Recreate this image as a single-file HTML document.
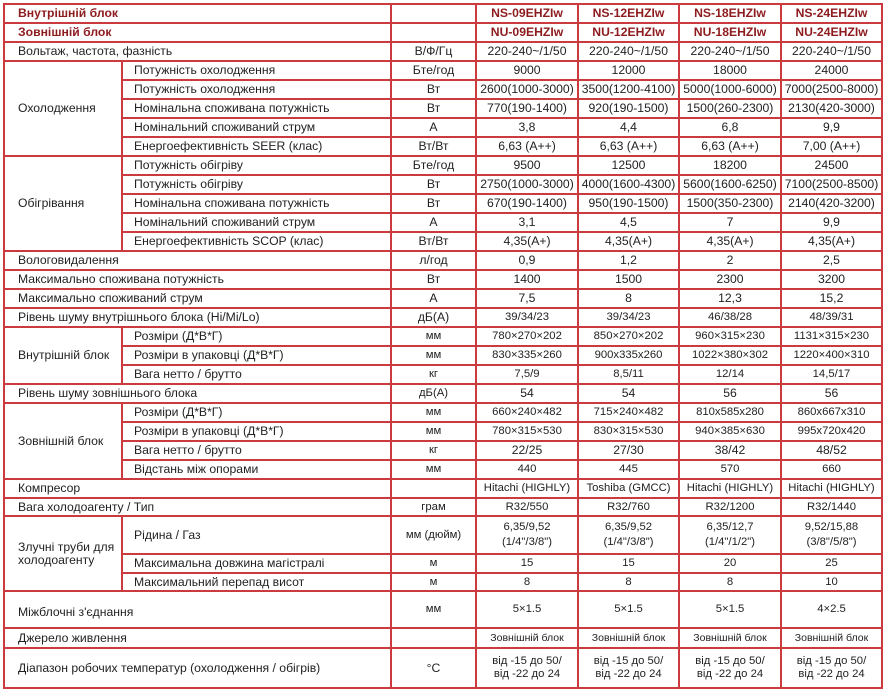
<!DOCTYPE html>
<html><head><meta charset="utf-8">
<style>
body{margin:0;background:#fff;width:886px;height:692px;overflow:hidden}
table{position:absolute;left:3px;top:3px;border-collapse:collapse;table-layout:fixed;font-family:"Liberation Sans","DejaVu Sans",sans-serif;font-size:12.2px;color:#222}
td{border:2px solid #cb3a3e;padding:0 0 0 13px;white-space:nowrap;overflow:hidden;line-height:13px}
td.s{padding-left:11px}
td.c{text-align:center;padding:0}
td.d{font-size:11.3px}
td.h{font-weight:bold;color:#8e1b1e}
tr{height:19px}
</style></head><body>
<table>
<colgroup><col style="width:118px"><col style="width:269px"><col style="width:85px"><col style="width:102px"><col style="width:101px"><col style="width:102px"><col style="width:101px"></colgroup>
<tr><td colspan="2" class="h">Внутрішній блок</td><td></td><td class="c h">NS-09EHZIw</td><td class="c h">NS-12EHZIw</td><td class="c h">NS-18EHZIw</td><td class="c h">NS-24EHZIw</td></tr>
<tr><td colspan="2" class="h">Зовнішній блок</td><td></td><td class="c h">NU-09EHZIw</td><td class="c h">NU-12EHZIw</td><td class="c h">NU-18EHZIw</td><td class="c h">NU-24EHZIw</td></tr>
<tr><td colspan="2">Вольтаж, частота, фазність</td><td class="c">В/Ф/Гц</td><td class="c">220-240~/1/50</td><td class="c">220-240~/1/50</td><td class="c">220-240~/1/50</td><td class="c">220-240~/1/50</td></tr>
<tr><td rowspan="5">Охолодження</td><td class="s">Потужність охолодження</td><td class="c">Бте/год</td><td class="c">9000</td><td class="c">12000</td><td class="c">18000</td><td class="c">24000</td></tr>
<tr><td class="s">Потужність охолодження</td><td class="c">Вт</td><td class="c">2600(1000-3000)</td><td class="c">3500(1200-4100)</td><td class="c">5000(1000-6000)</td><td class="c">7000(2500-8000)</td></tr>
<tr><td class="s">Номінальна споживана потужність</td><td class="c">Вт</td><td class="c">770(190-1400)</td><td class="c">920(190-1500)</td><td class="c">1500(260-2300)</td><td class="c">2130(420-3000)</td></tr>
<tr><td class="s">Номінальний споживаний струм</td><td class="c">А</td><td class="c">3,8</td><td class="c">4,4</td><td class="c">6,8</td><td class="c">9,9</td></tr>
<tr><td class="s">Енергоефективність SEER (клас)</td><td class="c">Вт/Вт</td><td class="c">6,63 (A++)</td><td class="c">6,63 (A++)</td><td class="c">6,63 (A++)</td><td class="c">7,00 (A++)</td></tr>
<tr><td rowspan="5">Обігрівання</td><td class="s">Потужність обігріву</td><td class="c">Бте/год</td><td class="c">9500</td><td class="c">12500</td><td class="c">18200</td><td class="c">24500</td></tr>
<tr><td class="s">Потужність обігріву</td><td class="c">Вт</td><td class="c">2750(1000-3000)</td><td class="c">4000(1600-4300)</td><td class="c">5600(1600-6250)</td><td class="c">7100(2500-8500)</td></tr>
<tr><td class="s">Номінальна споживана потужність</td><td class="c">Вт</td><td class="c">670(190-1400)</td><td class="c">950(190-1500)</td><td class="c">1500(350-2300)</td><td class="c">2140(420-3200)</td></tr>
<tr><td class="s">Номінальний споживаний струм</td><td class="c">А</td><td class="c">3,1</td><td class="c">4,5</td><td class="c">7</td><td class="c">9,9</td></tr>
<tr><td class="s">Енергоефективність SCOP (клас)</td><td class="c">Вт/Вт</td><td class="c">4,35(A+)</td><td class="c">4,35(A+)</td><td class="c">4,35(A+)</td><td class="c">4,35(A+)</td></tr>
<tr><td colspan="2">Вологовидалення</td><td class="c">л/год</td><td class="c">0,9</td><td class="c">1,2</td><td class="c">2</td><td class="c">2,5</td></tr>
<tr><td colspan="2">Максимально споживана потужність</td><td class="c">Вт</td><td class="c">1400</td><td class="c">1500</td><td class="c">2300</td><td class="c">3200</td></tr>
<tr><td colspan="2">Максимально споживаний струм</td><td class="c">А</td><td class="c">7,5</td><td class="c">8</td><td class="c">12,3</td><td class="c">15,2</td></tr>
<tr><td colspan="2">Рівень шуму внутрішнього блока (Hi/Mi/Lo)</td><td class="c">дБ(А)</td><td class="c d">39/34/23</td><td class="c d">39/34/23</td><td class="c d">46/38/28</td><td class="c d">48/39/31</td></tr>
<tr><td rowspan="3">Внутрішній блок</td><td class="s">Розміри (Д*В*Г)</td><td class="c d">мм</td><td class="c d">780×270×202</td><td class="c d">850×270×202</td><td class="c d">960×315×230</td><td class="c d">1131×315×230</td></tr>
<tr><td class="s">Розміри в упаковці (Д*В*Г)</td><td class="c d">мм</td><td class="c d">830×335×260</td><td class="c d">900x335x260</td><td class="c d">1022×380×302</td><td class="c d">1220×400×310</td></tr>
<tr><td class="s">Вага нетто / брутто</td><td class="c d">кг</td><td class="c d">7,5/9</td><td class="c d">8,5/11</td><td class="c d">12/14</td><td class="c d">14,5/17</td></tr>
<tr><td colspan="2">Рівень шуму зовнішнього блока</td><td class="c d">дБ(А)</td><td class="c">54</td><td class="c">54</td><td class="c">56</td><td class="c">56</td></tr>
<tr><td rowspan="4">Зовнішній блок</td><td class="s">Розміри (Д*В*Г)</td><td class="c d">мм</td><td class="c d">660×240×482</td><td class="c d">715×240×482</td><td class="c d">810x585x280</td><td class="c d">860x667x310</td></tr>
<tr><td class="s">Розміри в упаковці (Д*В*Г)</td><td class="c d">мм</td><td class="c d">780×315×530</td><td class="c d">830×315×530</td><td class="c d">940×385×630</td><td class="c d">995x720x420</td></tr>
<tr><td class="s">Вага нетто / брутто</td><td class="c d">кг</td><td class="c">22/25</td><td class="c">27/30</td><td class="c">38/42</td><td class="c">48/52</td></tr>
<tr><td class="s">Відстань між опорами</td><td class="c d">мм</td><td class="c d">440</td><td class="c d">445</td><td class="c d">570</td><td class="c d">660</td></tr>
<tr><td colspan="2">Компресор</td><td></td><td class="c d">Hitachi (HIGHLY)</td><td class="c d">Toshiba (GMCC)</td><td class="c d">Hitachi (HIGHLY)</td><td class="c d">Hitachi (HIGHLY)</td></tr>
<tr style="height:18px"><td colspan="2">Вага холодоагенту / Тип</td><td class="c d">грам</td><td class="c d">R32/550</td><td class="c d">R32/760</td><td class="c d">R32/1200</td><td class="c d">R32/1440</td></tr>
<tr style="height:38px"><td rowspan="3">Злучні труби для<br>холодоагенту</td><td class="s">Рідина / Газ</td><td class="c d">мм (дюйм)</td><td class="c d" style="line-height:15px">6,35/9,52<br>(1/4"/3/8")</td><td class="c d" style="line-height:15px">6,35/9,52<br>(1/4"/3/8")</td><td class="c d" style="line-height:15px">6,35/12,7<br>(1/4"/1/2")</td><td class="c d" style="line-height:15px">9,52/15,88<br>(3/8"/5/8")</td></tr>
<tr><td class="s">Максимальна довжина магістралі</td><td class="c d">м</td><td class="c d">15</td><td class="c d">15</td><td class="c d">20</td><td class="c d">25</td></tr>
<tr style="height:18px"><td class="s">Максимальний перепад висот</td><td class="c d">м</td><td class="c d">8</td><td class="c d">8</td><td class="c d">8</td><td class="c d">10</td></tr>
<tr style="height:37px"><td colspan="2" style="padding-top:6px">Міжблочні з'єднання</td><td class="c d">мм</td><td class="c d">5×1.5</td><td class="c d">5×1.5</td><td class="c d">5×1.5</td><td class="c d">4×2.5</td></tr>
<tr style="height:20px"><td colspan="2">Джерело живлення</td><td></td><td class="c" style="font-size:10.5px">Зовнішній блок</td><td class="c" style="font-size:10.5px">Зовнішній блок</td><td class="c" style="font-size:10.5px">Зовнішній блок</td><td class="c" style="font-size:10.5px">Зовнішній блок</td></tr>
<tr style="height:40px"><td colspan="2">Діапазон робочих температур (охолодження / обігрів)</td><td class="c">°C</td><td class="c d">від -15 до 50/<br>від -22 до 24</td><td class="c d">від -15 до 50/<br>від -22 до 24</td><td class="c d">від -15 до 50/<br>від -22 до 24</td><td class="c d">від -15 до 50/<br>від -22 до 24</td></tr>
</table>
</body></html>
